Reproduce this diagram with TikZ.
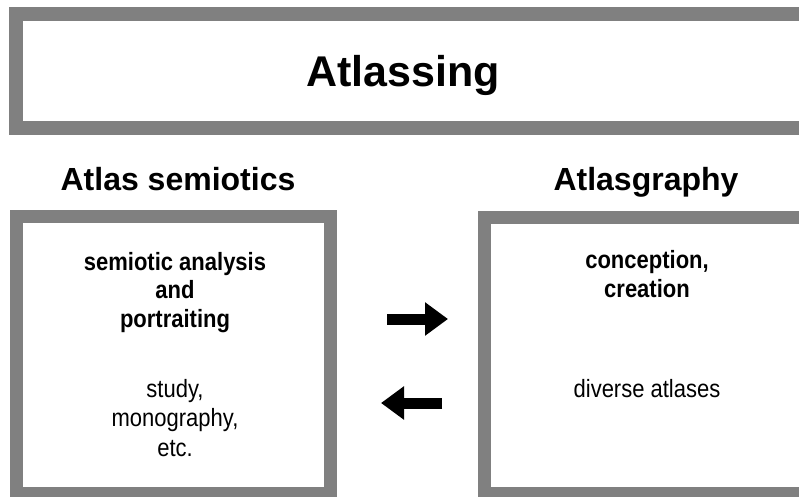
\documentclass[tikz,border=0pt]{standalone}
\usepackage{fontspec}
\setmainfont{Liberation Sans}
\newfontfamily\narrowsans[FakeStretch=0.88]{Liberation Sans}
\usetikzlibrary{arrows.meta,positioning}
\definecolor{framegray}{HTML}{808080}

\begin{document}
\begin{tikzpicture}[x=1pt,y=-1pt, >=Triangle,
    every node/.style={align=center,inner sep=0pt},
    frame/.style={draw=framegray,line width=13pt},
    heading/.style={font=\fontsize{32}{38}\selectfont\bfseries},
    boxhead/.style={font=\narrowsans\fontsize{25}{28.5}\selectfont\bfseries},
    boxtext/.style={font=\narrowsans\fontsize{25}{29.5}\selectfont},
    bigarrow/.style={line width=11pt,-{Triangle[length=23pt,width=32pt]}}]
  \useasboundingbox (0,0) rectangle (799,497);
  \clip (0,0) rectangle (799,497);
  % frames
  \draw[frame,line width=14pt] (16,14) rectangle (830,128);
  \draw[frame] (16.5,216.5) rectangle (330.5,493.5);
  \draw[frame] (484.5,217.5) rectangle (830,493.5);
  % title and headings
  \node[font=\fontsize{43}{48}\selectfont\bfseries,anchor=base] (title) at (403,87) {Atlassing};
  \node[heading,anchor=base] (semhead) at (178,190) {Atlas semiotics};
  \node[heading,anchor=base] (grahead) at (646,190) {Atlasgraphy};
  % box contents
  \node[boxhead,anchor=base] (semtask) at (175,327) {semiotic analysis\\and\\portraiting};
  \node[boxtext,anchor=base] (semout) at (175,456) {study,\\monography,\\etc.};
  \node[boxhead,anchor=base] (gratask) at (647,297) {conception,\\creation};
  \node[boxtext,anchor=base] (graout) at (647,397) {diverse atlases};
  % arrows
  \coordinate (fwdfrom) at (387,319);
  \coordinate (fwdto) at (448,319);
  \coordinate (backfrom) at (442,403);
  \coordinate (backto) at (381,403);
  \draw[bigarrow] (fwdfrom) -- (fwdto);
  \draw[bigarrow] (backfrom) -- (backto);
\end{tikzpicture}
\end{document}
